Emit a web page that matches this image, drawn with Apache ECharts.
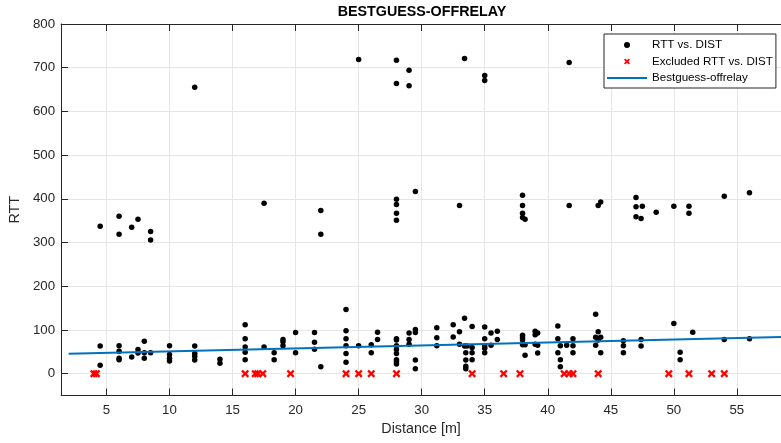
<!DOCTYPE html>
<html>
<head>
<meta charset="utf-8">
<script src="https://cdn.jsdelivr.net/npm/echarts@6/dist/echarts.min.js"></script>
<style>
html,body{margin:0;padding:0;background:#fff;}
#chart{width:781px;height:443px;}
</style>
</head>
<body>
<div id="chart"></div>
<script>
// ---- data ----
const titleText = 'BESTGUESS-OFFRELAY';
const xName = 'Distance [m]';
const yName = 'RTT';
const xTicks = [5, 10, 15, 20, 25, 30, 35, 40, 45, 50, 55];
const yTicks = [0, 100, 200, 300, 400, 500, 600, 700, 800];

const rttDist = [
  4.5, 4.5, 4.5,
  6, 6, 6, 6, 6, 6,
  7, 7,
  7.5, 7.5, 7.5,
  8, 8, 8,
  8.5, 8.5, 8.5,
  10, 10, 10, 10,
  12, 12, 12, 12, 12,
  14, 14,
  16, 16, 16, 16, 16,
  17.5, 17.5,
  18.3, 18.3,
  19, 19, 19,
  20, 20,
  21.5, 21.5, 21.5,
  22, 22, 22,
  24, 24, 24, 24, 24, 24,
  25, 25,
  26, 26,
  26.5, 26.5,
  28, 28, 28, 28, 28, 28, 28, 28, 28, 28, 28, 28, 28, 28,
  29, 29, 29, 29, 29,
  29.5, 29.5, 29.5, 29.5, 29.5,
  31.2, 31.2, 31.2,
  32.5, 32.5,
  33, 33, 33,
  33.4, 33.4, 33.4, 33.6,
  33.5, 33.5, 33.5, 33.5,
  34, 34, 34, 34,
  35, 35, 35, 35, 35, 35, 35,
  35.5, 35.5,
  36, 36,
  38, 38, 38, 38, 38, 38, 38, 38,
  38.2, 38.2, 38.2,
  39, 39, 39,
  39.2, 39.2, 39.2,
  40.8, 40.8, 40.8,
  41, 41, 41,
  41.5,
  41.7, 41.7,
  42, 42, 42,
  43.8, 43.8, 43.8,
  44, 44, 44, 44,
  44.2, 44.2, 44.2,
  46, 46, 46,
  47, 47, 47,
  47.4, 47.4, 47.4,
  47.5,
  48.6,
  50, 50,
  50.5, 50.5,
  51.2, 51.2,
  51.5,
  54, 54,
  56, 56
];
const rttValue = [
  63, 19, 337,
  64, 51, 35, 32, 360, 319,
  38, 335,
  55, 47, 353,
  74, 48, 35,
  48, 325, 306,
  64, 44, 35, 29,
  63, 46, 40, 31, 655,
  33, 24,
  112, 80, 61, 49, 32,
  61, 390,
  48, 32,
  78, 73, 64,
  94, 48,
  94, 72, 56,
  16, 373, 319,
  147, 98, 80, 64, 46, 26,
  64, 719,
  66, 48,
  95, 78,
  80, 77, 64, 55, 46, 32, 27, 22, 399, 387, 367, 351, 717, 664,
  93, 78, 67, 694, 659,
  101, 94, 31, 11, 417,
  105, 82, 64,
  112, 84,
  96, 67, 385,
  127, 63, 721, 63,
  48, 31, 17, 11,
  108, 60, 48, 32,
  107, 80, 63, 58, 48, 682, 671,
  93, 65,
  97, 78,
  88, 82, 77, 66, 408, 385, 367, 357,
  66, 42, 353,
  97, 89, 67,
  93, 65, 47,
  109, 80, 48,
  64, 32, 16,
  65,
  712, 385,
  80, 64, 48,
  136, 83, 65,
  96, 80, 77, 385,
  83, 48, 393,
  75, 64, 48,
  403, 382, 359,
  78, 63, 355,
  383,
  369,
  115, 383,
  49, 32,
  383, 367,
  95,
  78, 406,
  80, 414
];

const exclDist = [4.0, 4.2, 16.0, 16.8, 17.0, 17.4, 19.6, 24, 25, 26, 28, 34, 36.5, 37.8, 41.3, 41.7, 42.0, 44, 49.6, 51.2, 53, 54];
const exclValue = [0, 0, 0, 0, 0, 0, 0, 0, 0, 0, 0, 0, 0, 0, 0, 0, 0, 0, 0, 0, 0, 0];

const fitDist = [2, 58.5];
const fitValue = [45.4, 83.8];

const seriesNames = ['RTT vs. DIST', 'Excluded RTT vs. DIST', 'Bestguess-offrelay'];

// ---- build ----
const pair = (xs, ys) => xs.map((x, i) => [x, ys[i]]);
const FONT = '"Liberation Sans", Arial, Helvetica, sans-serif';
const AX = '#262626';
const GRID = '#e6e6e6';
const crossPath = 'path://M0,2.1 L2.1,0 L5,2.9 L7.9,0 L10,2.1 L7.1,5 L10,7.9 L7.9,10 L5,7.1 L2.1,10 L0,7.9 L2.9,5 Z';

const gridLines = xTicks.map(v => ({xAxis: v})).concat(yTicks.map(v => ({yAxis: v})));

const chart = echarts.init(document.getElementById('chart'), null, {renderer: 'canvas'});
chart.setOption({
  animation: false,
  backgroundColor: '#fff',
  textStyle: {fontFamily: FONT},
  title: {
    text: titleText,
    left: 422, top: 5, textAlign: 'center', padding: 0,
    textStyle: {fontFamily: FONT, fontWeight: 'bold', fontSize: 14.3, color: '#000'}
  },
  grid: {left: 57, right: -6, top: 24, bottom: 47.5, containLabel: false},
  legend: {
    orient: 'vertical',
    left: 604, top: 34,
    padding: [4, 3, 3, 2],
    itemWidth: 40, itemHeight: 6, itemGap: 2.5,
    borderColor: AX, borderWidth: 1,
    backgroundColor: '#fff',
    textStyle: {fontFamily: FONT, fontSize: 11.6, color: '#000', lineHeight: 14},
    data: [
      {name: seriesNames[0], icon: 'circle', itemStyle: {opacity: 1}},
      {name: seriesNames[1], icon: crossPath, itemStyle: {opacity: 1}},
      {name: seriesNames[2], itemStyle: {opacity: 0}}
    ]
  },
  xAxis: [{
    type: 'value', min: 1.4, max: 58.5,
    name: xName, nameLocation: 'middle', nameGap: 26.5,
    nameTextStyle: {fontFamily: FONT, fontSize: 14.3, color: AX},
    axisLine: {show: true, onZero: false, lineStyle: {color: AX, width: 1}},
    axisTick: {show: true, inside: true, length: 7, customValues: xTicks, lineStyle: {color: AX}},
    axisLabel: {customValues: xTicks, margin: 8, fontFamily: FONT, fontSize: 13.3, color: AX},
    splitLine: {show: false}
  }, {
    type: 'value', min: 1.4, max: 58.5, position: 'top',
    axisLine: {show: true, onZero: false, lineStyle: {color: AX, width: 1}},
    axisTick: {show: true, inside: true, length: 7, customValues: xTicks, lineStyle: {color: AX}},
    axisLabel: {show: false},
    splitLine: {show: false}
  }],
  yAxis: [{
    type: 'value', min: -50, max: 800,
    name: yName, nameLocation: 'middle', nameGap: 30,
    nameTextStyle: {fontFamily: FONT, fontSize: 14.3, color: AX},
    axisLine: {show: true, onZero: false, lineStyle: {color: AX, width: 1}},
    axisTick: {show: true, inside: true, length: 7, customValues: yTicks, lineStyle: {color: AX}},
    axisLabel: {customValues: yTicks, margin: 6, fontFamily: FONT, fontSize: 13.3, color: AX},
    splitLine: {show: false}
  }],
  series: [{
    name: 'grid', type: 'scatter', data: [],
    silent: true, z: 0,
    markLine: {
      silent: true, z: 0, animation: false,
      symbol: ['none', 'none'],
      label: {show: false},
      emphasis: {disabled: true},
      lineStyle: {type: 'solid', color: GRID, width: 1},
      data: gridLines
    }
  }, {
    name: seriesNames[0], type: 'scatter',
    data: pair(rttDist, rttValue),
    symbol: 'circle', symbolSize: 5.5,
    itemStyle: {color: '#000', opacity: 1},
    z: 2
  }, {
    name: seriesNames[1], type: 'scatter',
    data: pair(exclDist, exclValue),
    symbol: crossPath, symbolSize: 8, symbolKeepAspect: true,
    itemStyle: {color: '#ff0000', opacity: 1},
    z: 2
  }, {
    name: seriesNames[2], type: 'line',
    data: pair(fitDist, fitValue),
    symbol: 'none', showSymbol: false,
    lineStyle: {color: '#0072BD', width: 2},
    itemStyle: {color: '#0072BD'},
    z: 3
  }]
});
</script>
</body>
</html>
